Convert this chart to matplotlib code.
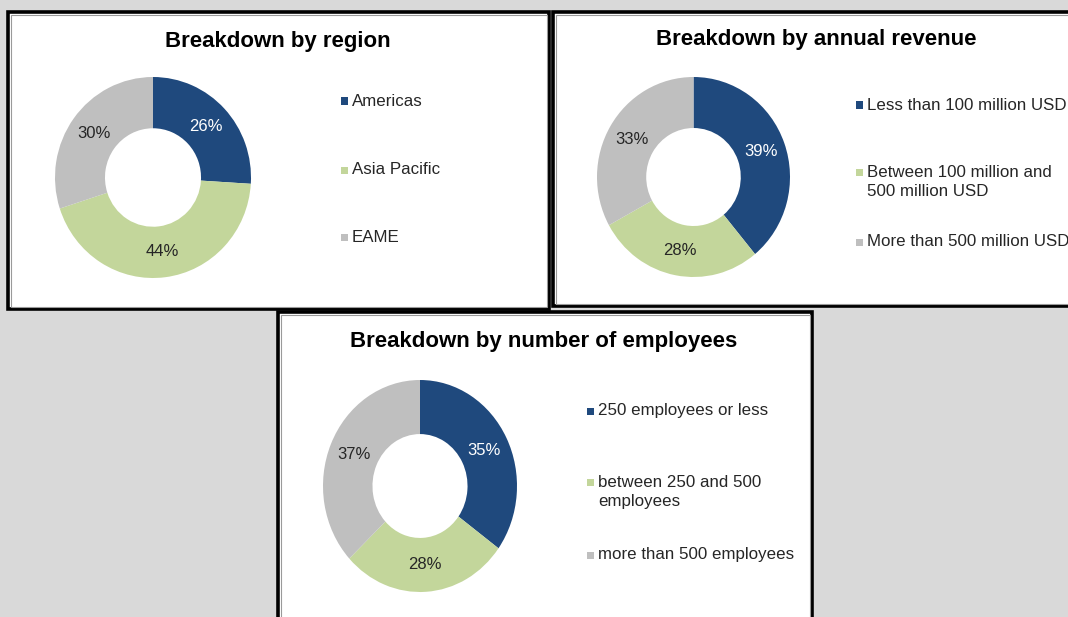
"""Survey respondent breakdowns: three donut panels."""

import matplotlib as mpl
import matplotlib.pyplot as plt
from matplotlib.patches import Rectangle

mpl.rcParams.update(
    {
        "font.family": ["Liberation Sans", "DejaVu Sans"],
        "font.size": 10,
    }
)

W, H = 1068, 617

COLORS = ["#1f497d", "#c3d69b", "#bfbfbf"]
PCT_COLORS = ["white", "#262626", "#262626"]

region_labels = ["Americas", "Asia Pacific", "EAME"]
region_values = [26, 44, 30]

revenue_labels = ["Less than 100 million USD", "Between 100 million and\n500 million USD",
                  "More than 500 million USD"]
revenue_values = [39, 28, 33]

employee_labels = ["250 employees or less", "between 250 and 500\nemployees",
                   "more than 500 employees"]
employee_values = [35, 28, 37]


def fx(x):
    return x / W


def fy(y):
    return 1 - y / H


def panel(fig, x0, y0, x1, y1):
    # double border: thick black line with a thin grey line inside
    fig.patches.append(Rectangle((fx(x0), fy(y1)), fx(x1 - x0), (y1 - y0) / H,
                                 transform=fig.transFigure, facecolor="white",
                                 edgecolor="black", linewidth=2.6, zorder=-2))
    fig.patches.append(Rectangle((fx(x0 + 2.5), fy(y1 - 2.5)), fx(x1 - x0 - 5), (y1 - y0 - 5) / H,
                                 transform=fig.transFigure, facecolor="none",
                                 edgecolor="#9a9a9a", linewidth=0.8, zorder=-1))


def donut(fig, cx, cy, rx, ry, values, title, tx, ty, labels, lx, ly):
    # the source donuts are slightly taller than wide, so no equal aspect
    ax = fig.add_axes([fx(cx - rx), fy(cy + ry), fx(2 * rx), 2 * ry / H])
    wedges, _, autotexts = ax.pie(
        values,
        colors=COLORS,
        startangle=90,
        counterclock=False,
        autopct=lambda p: f"{p:.0f}%",
        pctdistance=0.745,
        wedgeprops=dict(width=0.51, linewidth=0),
        textprops=dict(fontsize=12),
        radius=1.0,
    )
    for t, c in zip(autotexts, PCT_COLORS):
        t.set_color(c)
    ax.set_aspect("auto")
    ax.set_xlim(-1, 1)
    ax.set_ylim(-1, 1)
    ax.set_axis_off()

    fig.text(fx(tx), fy(ty), title, ha="center", va="center",
             fontsize=16, weight="bold", color="black")

    for label, color, y in zip(labels, COLORS, ly):
        n = label.count("\n")
        fig.patches.append(Rectangle((fx(lx - 11), fy(y + 3.5)), fx(7), 7 / H,
                                     transform=fig.transFigure, facecolor=color,
                                     edgecolor="none"))
        fig.text(fx(lx), fy(y + n * 10), label, ha="left", va="center",
                 fontsize=12.2, color="#262626", linespacing=1.4)


fig = plt.figure(figsize=(W / 100, H / 100), dpi=100)
fig.patch.set_facecolor("#d9d9d9")

panel(fig, 8, 12, 549, 309)
panel(fig, 553, 12, 1075, 306)
panel(fig, 278, 312, 812, 625)

donut(fig, 153, 177.5, 98, 100.5, region_values, "Breakdown by region", 278, 41,
      region_labels, 352, [101, 170, 237])
donut(fig, 693.5, 177, 96.5, 100, revenue_values, "Breakdown by annual revenue", 816, 40,
      revenue_labels, 867, [105, 172, 242])
donut(fig, 420, 486, 97, 106, employee_values, "Breakdown by number of employees", 544, 341,
      employee_labels, 598, [411, 482, 555])

fig.savefig("out.png", dpi=100, facecolor=fig.get_facecolor())
